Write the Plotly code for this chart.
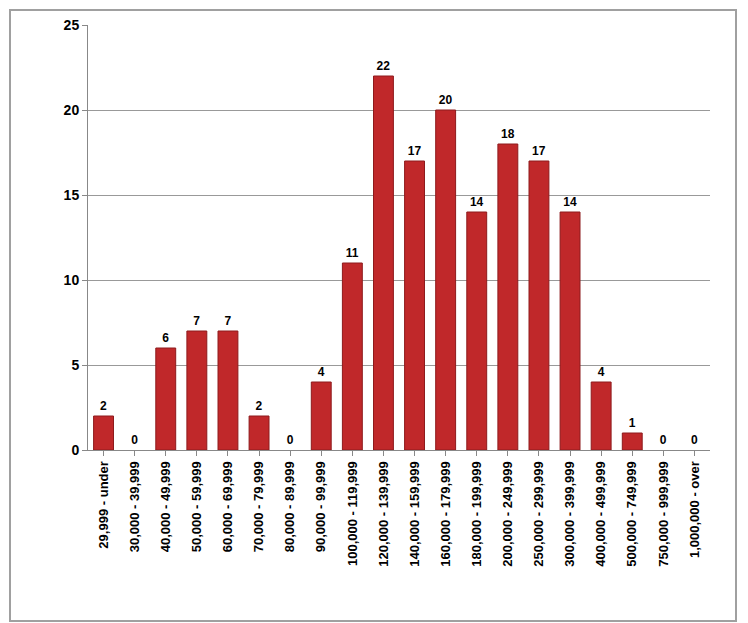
import plotly.graph_objects as go

categories = ["29,999 - under","30,000 - 39,999","40,000 - 49,999","50,000 - 59,999","60,000 - 69,999","70,000 - 79,999","80,000 - 89,999","90,000 - 99,999","100,000 - 119,999","120,000 - 139,999","140,000 - 159,999","160,000 - 179,999","180,000 - 199,999","200,000 - 249,999","250,000 - 299,999","300,000 - 399,999","400,000 - 499,999","500,000 - 749,999","750,000 - 999,999","1,000,000 - over"]
values = [2,0,6,7,7,2,0,4,11,22,17,20,14,18,17,14,4,1,0,0]

L, R, T, B = 80, 46, 17, 181
pw, ph = 748 - L - R, 623 - T - B
def px(x): return (x - L) / pw
def py(y): return (623 - B - y) / ph

fig = go.Figure(go.Bar(
    x=categories, y=values, text=[str(v) for v in values], textposition="outside",
    textfont=dict(family="Liberation Sans", size=12, color="black", weight="bold"),
    marker=dict(color="#c0282a", line=dict(color="#8e1a1c", width=[1 if v else 0 for v in values])),
    cliponaxis=False))
fig.update_layout(
    width=748, height=623, paper_bgcolor="white", plot_bgcolor="white",
    margin=dict(l=L, r=R, t=T, b=B, autoexpand=False), bargap=0.36, showlegend=False,
    font=dict(family="Liberation Sans", size=13, color="black"),
    shapes=[dict(type="rect", xref="paper", yref="paper", x0=px(2), x1=px(728), y0=py(613), y1=py(2),
                 line=dict(color="#a0a0a0", width=2))])
fig.update_xaxes(tickangle=-90, showline=True, linecolor="#888", ticks="outside", ticklen=5,
                 tickcolor="#888", tickfont=dict(size=13, family="Liberation Sans", weight="bold"))
fig.update_yaxes(range=[0,25], dtick=5, showgrid=True, gridcolor="#999", showline=True, linecolor="#888",
                 ticks="outside", tickcolor="#888", tickfont=dict(size=14, weight="bold"), zeroline=False)
fig.write_html("out.html")
